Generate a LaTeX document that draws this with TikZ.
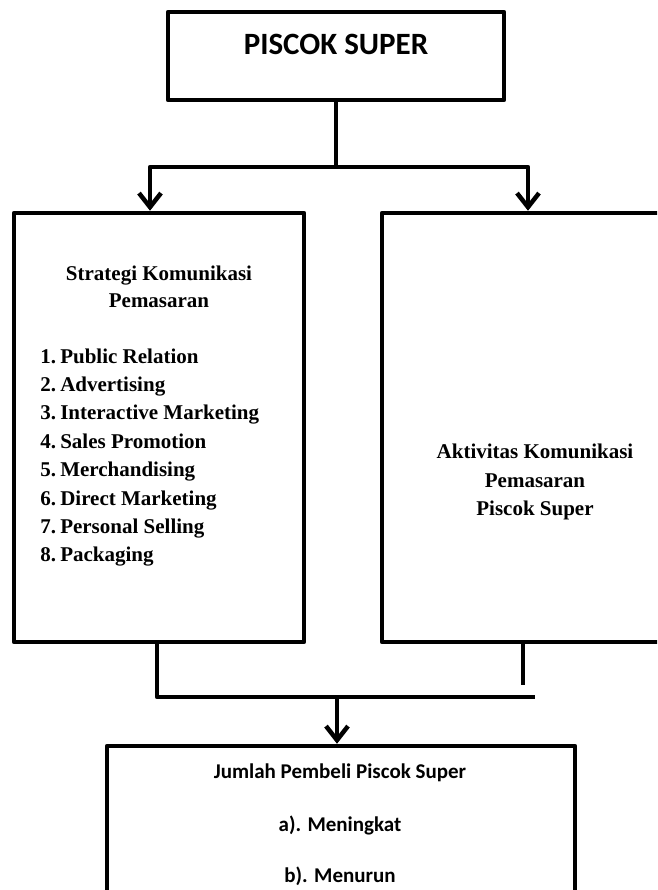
\documentclass[tikz,border=0pt]{standalone}
\usepackage{fontspec}
\setmainfont{Liberation Serif}
\newfontfamily\calibri{Carlito}
\usetikzlibrary{arrows.meta}

\begin{document}
\begin{tikzpicture}[x=1pt,y=-1pt,line width=4.5pt,line join=round,>={Straight Barb[length=14pt,width=22pt]}]
			% Styles for this sheet
			\tikzset{
				box/.style={draw,rectangle,inner sep=0pt},
				serif/.style={font=\fontsize{21}{25}\selectfont\bfseries,inner sep=0pt,anchor=base},
				sans/.style={font=\calibri\fontsize{21}{25}\selectfont\bfseries,inner sep=0pt,anchor=base}
			}
			\useasboundingbox (0,0) rectangle (657,890);
			\clip (0,0) rectangle (657,890);

			% draw the boxes
			\node[box,minimum width=336pt,minimum height=88pt] (piscok) at (336,56) {};
			\node[box,minimum width=290pt,minimum height=429pt] (strategi) at (159,427.5) {};
			\node[box,minimum width=306pt,minimum height=429pt] (aktivitas) at (535,427.5) {};
			\node[box,minimum width=468pt,minimum height=200pt] (jumlah) at (341,846) {};

			% Title of the top box
			\node[sans,font=\calibri\fontsize{31}{36}\selectfont\bfseries] (title) at (336,55) {PISCOK SUPER};

			% Heading of the left box
			\node[serif] (strategi1) at (159,280) {Strategi Komunikasi};
			\node[serif] (strategi2) at (159,307) {Pemasaran};
			% Numbered list in the left box
			% n: number, txt: item
			\foreach \n/\txt in
			{
				1/Public Relation,
				2/Advertising,
				3/Interactive Marketing,
				4/Sales Promotion,
				5/Merchandising,
				6/Direct Marketing,
				7/Personal Selling,
				8/Packaging
			} {
				\node[serif,anchor=base west] (num\n) at (38,{363+28.4*(\n-1)}) {\n.};
				\node[serif,anchor=base west] (item\n) at (58,{363+28.4*(\n-1)}) {\txt};
			}

			% Text of the right box
			\node[serif] (aktivitas1) at (535,458) {Aktivitas Komunikasi};
			\node[serif] (aktivitas2) at (535,487) {Pemasaran};
			\node[serif] (aktivitas3) at (535,515) {Piscok Super};

			% Text of the bottom box
			\node[sans] (jumlah1) at (340,778) {Jumlah Pembeli Piscok Super};
			\node[sans] (jumlah2) at (340,831) {a). Meningkat};
			\node[sans] (jumlah3) at (340,882) {b). Menurun};

			% Branch from the top box to both boxes
			\coordinate (split) at (336,167);
			\draw (piscok.south) -- (split);
			\draw[->] (split) -| ([xshift=-9pt]strategi.north);
			\draw[->] (split) -| ([xshift=-7pt]aktivitas.north);

			% Join both boxes into the bottom box
			\coordinate (merge) at (337,697);
			\coordinate (mergeend) at (535,697);
			\coordinate (stub) at (523,685);
			\draw ([xshift=-2pt]strategi.south) |- (mergeend);
			\draw ([xshift=-12pt]aktivitas.south) -- (stub);
			\draw[->] (merge) -- ([xshift=-4pt]jumlah.north);
		\end{tikzpicture}
\end{document}
